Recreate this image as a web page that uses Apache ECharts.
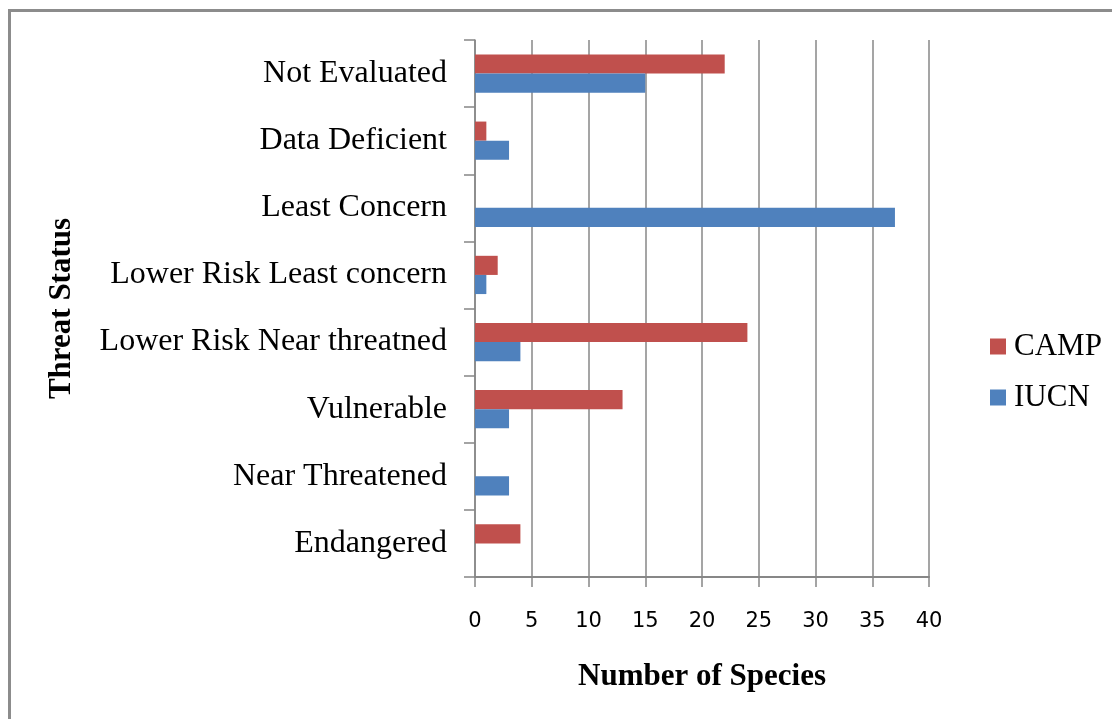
<!DOCTYPE html>
<html>
<head>
<meta charset="utf-8">
<script src="https://cdn.jsdelivr.net/npm/echarts@6/dist/echarts.min.js"></script>
<style>
  html, body { margin: 0; padding: 0; background: #fff; }
  #chart { width: 1112px; height: 719px; }
</style>
</head>
<body>
<div id="chart"></div>
<script>
// Threat categories, listed bottom to top along the vertical axis
const categories = [
  'Endangered',
  'Near Threatened',
  'Vulnerable',
  'Lower Risk Near threatned',
  'Lower Risk Least concern',
  'Least Concern',
  'Data Deficient',
  'Not Evaluated'
];
// Species counts per category
const campValues = [4, 0, 13, 24, 2, 0, 1, 22];
const iucnValues = [0, 3, 3, 4, 1, 37, 3, 15];
const xTicks = { min: 0, max: 40, interval: 5 };

const serif = '"Liberation Serif", "Times New Roman", serif';
const gridColor = '#878787';

const chart = echarts.init(document.getElementById('chart'), null, { renderer: 'canvas' });
chart.setOption({
  backgroundColor: '#ffffff',
  animation: false,
  graphic: [{
    type: 'rect',
    shape: { x: 9.5, y: 10.5, width: 1300, height: 900 },
    style: { fill: 'none', stroke: '#8c8c8c', lineWidth: 3 },
    silent: true
  }],
  grid: { left: 475, right: 183, top: 40, bottom: 142, containLabel: false },
  legend: {
    orient: 'vertical',
    left: 985,
    top: 326,
    data: ['CAMP', 'IUCN'],
    icon: 'rect',
    itemWidth: 16,
    itemHeight: 16,
    itemGap: 20,
    textStyle: { fontFamily: serif, fontSize: 31, color: '#000', padding: [0, 0, 0, 3] }
  },
  xAxis: {
    type: 'value',
    min: xTicks.min,
    max: xTicks.max,
    interval: xTicks.interval,
    name: 'Number of Species',
    nameLocation: 'middle',
    nameGap: 84,
    nameTextStyle: { fontFamily: serif, fontSize: 31, fontWeight: 'bold', color: '#000' },
    axisLine: { show: true, lineStyle: { color: gridColor, width: 2 } },
    axisTick: { show: true, length: 10, lineStyle: { color: gridColor, width: 1.5 } },
    axisLabel: { fontFamily: '"DejaVu Sans", sans-serif', fontSize: 21, color: '#000', margin: 34 },
    splitLine: { show: true, lineStyle: { color: gridColor, width: 1.5 } }
  },
  yAxis: {
    type: 'category',
    data: categories,
    name: 'Threat Status',
    nameLocation: 'middle',
    nameGap: 398,
    nameRotate: 90,
    nameTextStyle: { fontFamily: serif, fontSize: 31, fontWeight: 'bold', color: '#000' },
    axisLine: { show: true, lineStyle: { color: gridColor, width: 1.5 } },
    axisTick: { show: true, length: 11, lineStyle: { color: gridColor, width: 1.5 } },
    axisLabel: { fontFamily: serif, fontSize: 32, color: '#000', margin: 28 },
    splitLine: { show: false }
  },
  series: [
    {
      name: 'CAMP',
      type: 'bar',
      data: campValues,
      itemStyle: { color: '#C0504D' },
      barGap: '0%',
      barCategoryGap: '43%'
    },
    {
      name: 'IUCN',
      type: 'bar',
      data: iucnValues,
      itemStyle: { color: '#4F81BD' },
      barGap: '0%',
      barCategoryGap: '43%'
    }
  ]
});
</script>
</body>
</html>
